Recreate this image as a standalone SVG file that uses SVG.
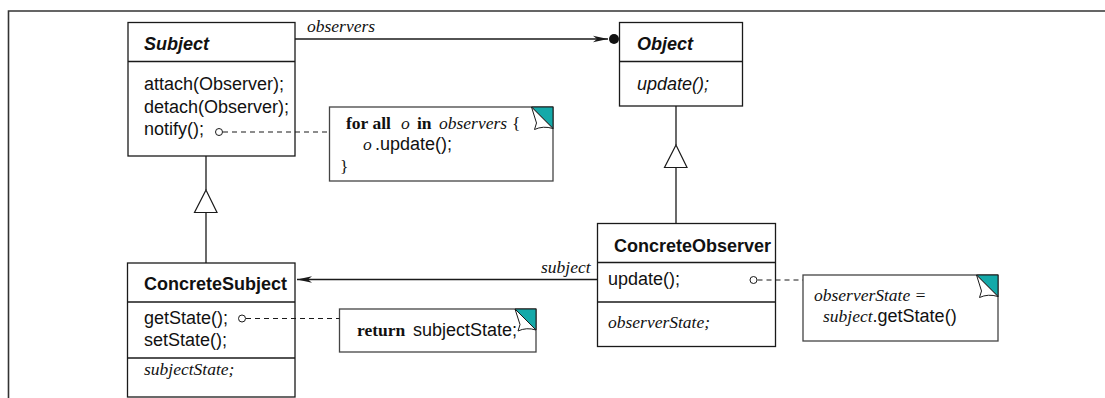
<svg xmlns="http://www.w3.org/2000/svg" width="1105" height="398" viewBox="0 0 1105 398">
<style>
  .box{fill:#fff;stroke:#1a1a1a;stroke-width:1.3}
  .div{stroke:#1a1a1a;stroke-width:1.3}
  .note{fill:#fff;stroke:#444;stroke-width:1.3}
  .ln{stroke:#1a1a1a;stroke-width:1.3;fill:none}
  .dash{stroke:#1a1a1a;stroke-width:1.1;fill:none;stroke-dasharray:5 4}
  .oc{fill:#fff;stroke:#1a1a1a;stroke-width:1}
  .tri{fill:#fff;stroke:#1a1a1a;stroke-width:1.2}
  .sans{font-family:"Liberation Sans",Arial,sans-serif;font-size:18px;fill:#111}
  .b{font-weight:bold}
  .i{font-style:italic}
  .serif{font-family:"Liberation Serif","Times New Roman",serif;font-size:17.5px;fill:#111}
  .teal{fill:#14a9a9;stroke:#1a1a1a;stroke-width:1}
  .flap{fill:#fff;stroke:#1a1a1a;stroke-width:1}
</style>
<defs>
  <marker id="barb" viewBox="0 0 16 8" refX="15" refY="4" markerWidth="16" markerHeight="8" markerUnits="userSpaceOnUse" orient="auto">
    <path d="M15,4 L0,0.8 L4,4 L0,7.2 Z" fill="#1a1a1a"/>
  </marker>
</defs>

<path d="M8.5,398 V11 H1105" fill="none" stroke="#333" stroke-width="1.6"/>

<g id="Subject">
  <rect class="box" x="128" y="22.5" width="167" height="133.5"/>
  <line class="div" x1="128" y1="61.5" x2="295" y2="61.5"/>
  <text class="sans b i" x="144" y="50">Subject</text>
  <text class="sans" x="144" y="90">attach(Observer);</text>
  <text class="sans" x="144" y="112.5">detach(Observer);</text>
  <text class="sans" x="144" y="135">notify();</text>
</g>

<g id="Object">
  <rect class="box" x="619.5" y="22.5" width="123" height="83.5"/>
  <line class="div" x1="619.5" y1="61.5" x2="742.5" y2="61.5"/>
  <text class="sans b i" x="637" y="50">Object</text>
  <text class="sans i" x="637" y="90">update();</text>
</g>

<g id="ConcreteSubject">
  <rect class="box" x="127.5" y="263" width="167.5" height="134"/>
  <line class="div" x1="127.5" y1="302" x2="295" y2="302"/>
  <line class="div" x1="127.5" y1="358" x2="295" y2="358"/>
  <text class="sans b" x="144" y="290">ConcreteSubject</text>
  <text class="sans" x="144" y="323.5">getState();</text>
  <text class="sans" x="144" y="346">setState();</text>
  <text class="serif i" x="144" y="375">subjectState;</text>
</g>

<g id="ConcreteObserver">
  <rect class="box" x="597.5" y="223.5" width="178" height="123"/>
  <line class="div" x1="597.5" y1="262.5" x2="775.5" y2="262.5"/>
  <line class="div" x1="597.5" y1="302" x2="775.5" y2="302"/>
  <text class="sans b" x="614" y="252">ConcreteObserver</text>
  <text class="sans" x="608" y="285">update();</text>
  <text class="serif i" x="608" y="328">observerState;</text>
</g>

<g id="note-notify">
  <rect class="note" x="329.5" y="107" width="223.5" height="74"/>
  <polygon class="teal" points="531.5,107 553,107 553,128.5"/>
  <path class="flap" d="M531.5,107 L536.5,123 L534.5,129.5 Q543,125.5 553,128.5 Z"/>
  <text class="serif" y="129"><tspan class="b" x="346">for all</tspan><tspan class="i" x="401">o</tspan><tspan class="b" x="417">in</tspan><tspan class="i" x="439">observers</tspan><tspan x="512">{</tspan></text>
  <text y="150"><tspan class="serif i" x="363">o</tspan><tspan class="sans" x="375">.update();</tspan></text>
  <text class="serif" x="340" y="172">}</text>
</g>

<g id="note-getState">
  <rect class="note" x="339.5" y="309" width="196.5" height="43"/>
  <polygon class="teal" points="515,309 536,309 536,330"/>
  <path class="flap" d="M515,309 L520,324.5 L518,331 Q526.5,327 536,330 Z"/>
  <text y="336"><tspan class="serif b" x="357">return</tspan><tspan class="sans" x="413">subjectState;</tspan></text>
</g>

<g id="note-update">
  <rect class="note" x="803" y="275" width="195" height="66"/>
  <polygon class="teal" points="976.5,275 998,275 998,296.5"/>
  <path class="flap" d="M976.5,275 L981.5,291 L979.5,297.5 Q988,293.5 998,296.5 Z"/>
  <text class="serif i" x="814" y="301">observerState =</text>
  <text y="322"><tspan class="serif i" x="823">subject</tspan><tspan class="sans">.getState()</tspan></text>
</g>

<g id="connectors">
  <line class="ln" x1="295" y1="39" x2="608" y2="39" marker-end="url(#barb)"/>
  <circle cx="614" cy="39" r="5" fill="#111"/>
  <text class="serif i" x="307" y="32">observers</text>

  <line class="ln" x1="206" y1="156" x2="206" y2="190"/>
  <polygon class="tri" points="206,190 194.5,212.5 217,212.5"/>
  <line class="ln" x1="206" y1="212.5" x2="206" y2="263"/>

  <line class="ln" x1="676" y1="106" x2="676" y2="145"/>
  <polygon class="tri" points="676,145 664.5,167.5 687,167.5"/>
  <line class="ln" x1="676" y1="167.5" x2="676" y2="223.5"/>

  <line class="ln" x1="597.5" y1="279.5" x2="297" y2="279.5" marker-end="url(#barb)"/>
  <text class="serif i" x="541" y="273">subject</text>

  <circle class="oc" cx="219" cy="132" r="3.5"/>
  <line class="dash" x1="223" y1="132" x2="329.5" y2="132"/>
  <circle class="oc" cx="242" cy="318.5" r="3.5"/>
  <line class="dash" x1="246" y1="318.5" x2="339.5" y2="318.5"/>
  <circle class="oc" cx="753.5" cy="280" r="3.5"/>
  <line class="dash" x1="757.5" y1="280" x2="803" y2="280"/>
</g>
</svg>
